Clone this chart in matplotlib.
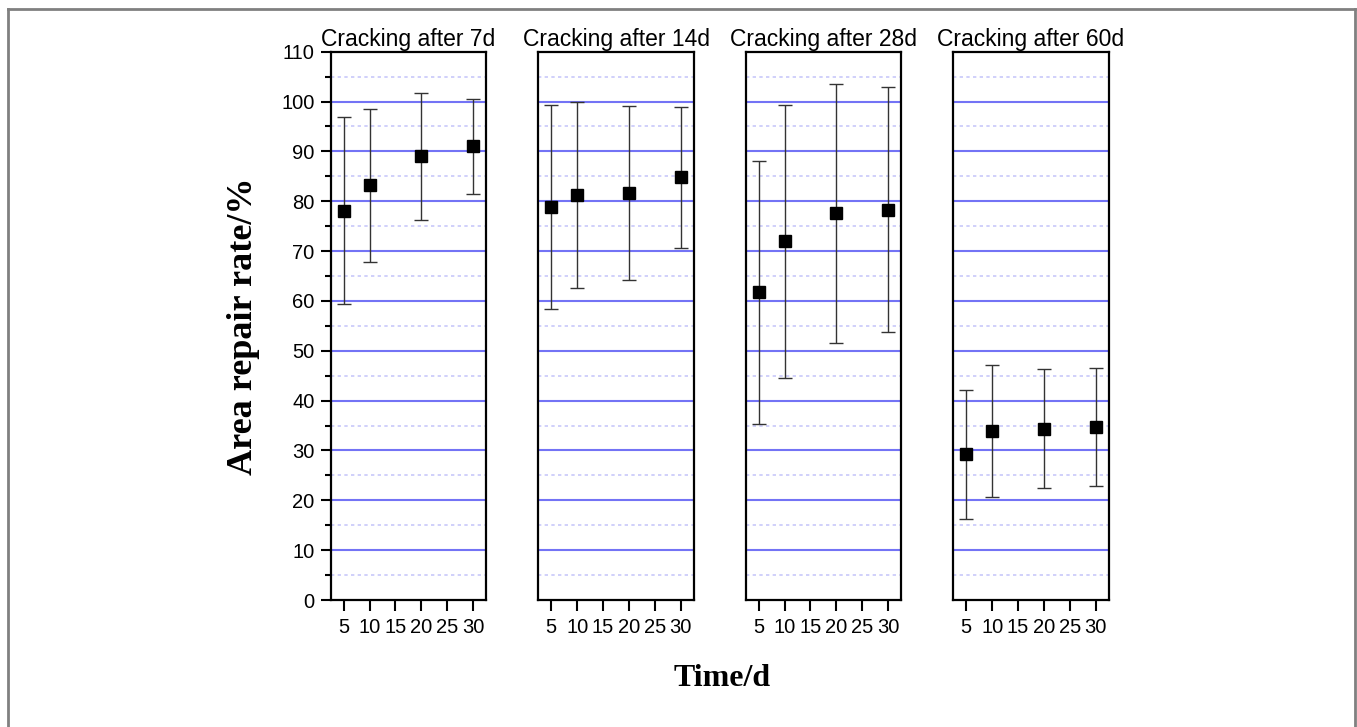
import numpy as np
import matplotlib.pyplot as plt
from matplotlib.lines import Line2D
from matplotlib.ticker import MultipleLocator

# Данные
days = [5, 10, 20, 30]
titles = ['Cracking after 7d', 'Cracking after 14d', 'Cracking after 28d', 'Cracking after 60d']
means = [
    [78.1, 83.2, 89.0, 91.0],
    [78.8, 81.3, 81.6, 84.8],
    [61.7, 72.0, 77.6, 78.3],
    [29.2, 33.9, 34.4, 34.7],
]
errors = [
    [18.8, 15.4, 12.7, 9.6],
    [20.5, 18.7, 17.5, 14.2],
    [26.4, 27.4, 26.0, 24.6],
    [12.9, 13.3, 11.9, 11.8],
]
xticks = [5, 10, 15, 20, 25, 30]

W, H = 1357, 727
fig = plt.figure(figsize=(W / 100, H / 100), dpi=100)

sans = 'Liberation Sans'
serif = 'Liberation Serif'

# рамка вокруг рисунка (слева, сверху, справа)
for xs, ys in [([8 / W, 8 / W], [0, 1 - 9 / H]),
               ([8 / W, 1355 / W], [1 - 9 / H, 1 - 9 / H]),
               ([1355 / W, 1355 / W], [0, 1 - 9 / H])]:
    fig.add_artist(Line2D(xs, ys, transform=fig.transFigure, color='#808080', lw=2))

lefts = [330.7, 538.3, 745.7, 953.3]
pw = 155.5
bottom = 1 - 600 / H
height = (600 - 51.7) / H

for i in range(4):
    ax = fig.add_axes([lefts[i] / W, bottom, pw / W, height])
    ax.set_xlim(2.5, 32.5)
    ax.set_ylim(0, 110)

    # сетка
    for v in range(10, 110, 10):
        ax.axhline(v, color='#7373f5', lw=1.5, zorder=1)
    for v in range(5, 110, 10):
        ax.axhline(v, color='#c8c8fa', lw=1.2, ls=(0, (2, 2)), zorder=1)

    ax.errorbar(days, means[i], yerr=errors[i], fmt='none', ecolor='#333333',
                elinewidth=1.0, capsize=5, capthick=1.0, zorder=2)
    ax.plot(days, means[i], 's', color='black', markersize=8, zorder=3)

    for s in ax.spines.values():
        s.set_linewidth(1.6)

    ax.set_xticks(xticks)
    ax.set_xticklabels([str(t) for t in xticks], fontfamily=sans, fontsize=14.5)
    ax.tick_params(axis='x', direction='out', length=8, width=1.5, pad=5)

    if i == 0:
        ax.yaxis.set_major_locator(MultipleLocator(10))
        ax.yaxis.set_minor_locator(MultipleLocator(5))
        ax.tick_params(axis='y', which='major', direction='out', length=7.5, width=1.5, pad=4)
        ax.tick_params(axis='y', which='minor', direction='out', length=4, width=1.5)
        for lab in ax.get_yticklabels():
            lab.set_fontfamily(sans)
            lab.set_fontsize(14.5)
    else:
        ax.set_yticks([])

    ax.set_title(titles[i], fontfamily=sans, fontsize=16.5, pad=4)

fig.text(243 / W, 1 - 326 / H, 'Area repair rate/%', rotation=90, ha='center', va='center',
         fontfamily=serif, fontweight='bold', fontsize=26)
fig.text(722 / W, 1 - 678 / H, 'Time/d', ha='center', va='center',
         fontfamily=serif, fontweight='bold', fontsize=23)

fig.savefig('out.png', dpi=100)
